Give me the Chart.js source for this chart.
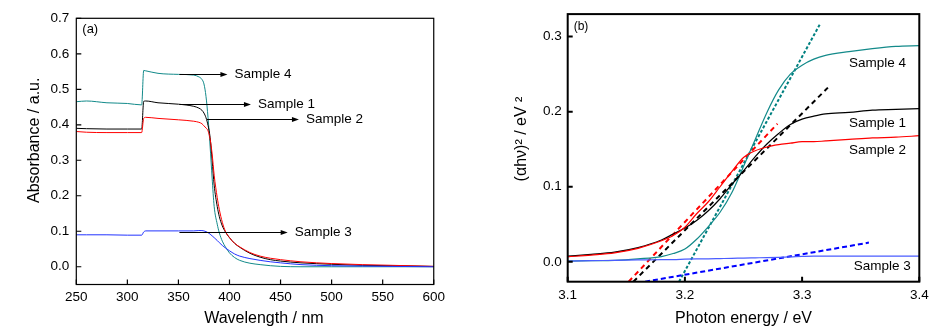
<!DOCTYPE html>
<html>
<head>
<meta charset="utf-8">
<script src="https://cdn.jsdelivr.net/npm/chart.js@4"></script>
<style>
  body { margin: 0; background: #fff; }
  #wrap { position: relative; width: 947px; height: 336px; }
  canvas { position: absolute; top: 0; }
  #chartA { left: 0; }
  #chartB { left: 480px; }
</style>
</head>
<body>
<div id="wrap">
  <canvas id="chartA" width="450" height="336"></canvas>
  <canvas id="chartB" width="467" height="336"></canvas>
</div>
<script>
// ---- panel (a): absorbance spectra ----
const wavelength = [250, 260, 280, 300, 314, 316, 318, 330, 350, 365, 370, 373, 375, 377, 379, 381, 383, 385, 388, 390, 393, 396, 400, 405, 410, 420, 430, 440, 450, 470, 500, 530, 560, 600];
const absSample1 = [0.390, 0.389, 0.388, 0.388, 0.388, 0.466, 0.467, 0.462, 0.458, 0.452, 0.447, 0.441, 0.433, 0.420, 0.398, 0.365, 0.300, 0.230, 0.170, 0.142, 0.115, 0.098, 0.082, 0.066, 0.055, 0.038, 0.027, 0.020, 0.016, 0.011, 0.007, 0.004, 0.003, 0.001];
const absSample2 = [0.381, 0.379, 0.378, 0.378, 0.378, 0.418, 0.421, 0.418, 0.414, 0.410, 0.407, 0.403, 0.397, 0.391, 0.383, 0.360, 0.318, 0.258, 0.195, 0.162, 0.125, 0.100, 0.082, 0.066, 0.056, 0.040, 0.030, 0.024, 0.020, 0.014, 0.009, 0.006, 0.004, 0.001];
const absSample3 = [0.090, 0.090, 0.090, 0.089, 0.089, 0.098, 0.101, 0.101, 0.101, 0.101, 0.102, 0.102, 0.101, 0.099, 0.096, 0.092, 0.087, 0.082, 0.074, 0.068, 0.060, 0.053, 0.045, 0.036, 0.030, 0.023, 0.018, 0.014, 0.011, 0.006, 0.003, 0.002, 0.001, 0.000];
const absSample4 = [0.465, 0.467, 0.462, 0.460, 0.456, 0.553, 0.552, 0.545, 0.542, 0.540, 0.535, 0.528, 0.515, 0.480, 0.420, 0.340, 0.250, 0.170, 0.120, 0.096, 0.072, 0.056, 0.039, 0.026, 0.018, 0.010, 0.006, 0.003, 0.001, 0.000, 0.000, 0.000, 0.000, 0.000];
const xTicksA = [250, 300, 350, 400, 450, 500, 550, 600];
const yTicksA = [0.0, 0.1, 0.2, 0.3, 0.4, 0.5, 0.6, 0.7];

// arrows pointing at the curves (data units)
const arrowNames = ['Sample 4', 'Sample 1', 'Sample 2', 'Sample 3'];
const arrowY = [0.542, 0.458, 0.417, 0.098];
const arrowFrom = [351, 351, 378, 351];
const arrowTo = [398, 421, 468, 457];

// ---- panel (b): Tauc plot ----
const energy = [3.10, 3.12, 3.14, 3.16, 3.18, 3.19, 3.20, 3.21, 3.22, 3.23, 3.24, 3.25, 3.26, 3.27, 3.28, 3.29, 3.30, 3.31, 3.32, 3.34, 3.36, 3.38, 3.40];
const taucSample1 = [0.0075, 0.010, 0.013, 0.019, 0.029, 0.037, 0.045, 0.055, 0.068, 0.084, 0.103, 0.121, 0.140, 0.157, 0.171, 0.183, 0.190, 0.194, 0.197, 0.199, 0.202, 0.203, 0.204];
const taucSample2 = [0.0066, 0.009, 0.012, 0.018, 0.028, 0.035, 0.046, 0.064, 0.080, 0.100, 0.120, 0.139, 0.148, 0.153, 0.156, 0.158, 0.160, 0.160, 0.161, 0.163, 0.165, 0.166, 0.168];
const taucSample3 = [0.001, 0.0015, 0.002, 0.0025, 0.003, 0.003, 0.0035, 0.0038, 0.004, 0.0043, 0.0046, 0.005, 0.0053, 0.0056, 0.006, 0.0065, 0.0072, 0.0075, 0.0076, 0.0076, 0.0076, 0.0076, 0.0076];
const taucSample4 = [0.001, 0.0015, 0.002, 0.004, 0.007, 0.011, 0.017, 0.030, 0.047, 0.066, 0.092, 0.127, 0.163, 0.199, 0.229, 0.250, 0.262, 0.270, 0.275, 0.280, 0.284, 0.287, 0.288];
// linear fits (end points)
const fitX1 = [3.156, 3.322], fitY1 = [-0.0265, 0.232];
const fitX2 = [3.152, 3.279], fitY2 = [-0.0265, 0.184];
const fitX3 = [3.166, 3.357], fitY3 = [-0.0265, 0.0256];
const fitX4 = [3.195, 3.315], fitY4 = [-0.0265, 0.316];
const xTicksB = [3.1, 3.2, 3.3, 3.4];
const yTicksB = [0.0, 0.1, 0.2, 0.3];

const labelNamesB = ['Sample 4', 'Sample 1', 'Sample 2', 'Sample 3'];
const labelXB = [3.34, 3.34, 3.34, 3.344];
const labelYB = [0.265, 0.185, 0.149, -0.006];

const FONT = "'Liberation Sans', Arial, sans-serif";
Chart.defaults.color = '#000';
Chart.defaults.font.family = FONT;

function pts(xs, ys) {
  return xs.map((x, i) => ({ x: x, y: ys[i] }));
}

function curve(xs, ys, color, width) {
  return {
    data: pts(xs, ys),
    borderColor: color,
    borderWidth: width,
    pointRadius: 0,
    cubicInterpolationMode: 'monotone'
  };
}

function fit(xs, ys, color, dash) {
  return {
    data: pts(xs, ys),
    borderColor: color,
    borderWidth: 2,
    borderDash: dash,
    pointRadius: 0
  };
}

function axis(min, max, ticks, fmt, title, size, pad, isX) {
  return {
    type: 'linear',
    min: min,
    max: max,
    afterBuildTicks: s => { s.ticks = ticks.map(v => ({ value: v })); },
    afterFit: s => { if (isX) s.height = size; else s.width = size; },
    grid: { display: false, drawTicks: false },
    border: { display: false },
    ticks: { padding: pad, font: { size: 13.5 }, callback: fmt },
    title: { display: true, text: title, padding: 0, font: { size: 16 } }
  };
}

// frame + inward tick marks
const framePlugin = {
  id: 'frame',
  afterDatasetsDraw(chart, args, opts) {
    const { ctx, chartArea: a, scales } = chart;
    ctx.save();
    ctx.strokeStyle = '#000';
    ctx.lineWidth = opts.width;
    ctx.beginPath();
    scales.x.ticks.forEach(t => {
      const px = scales.x.getPixelForValue(t.value);
      ctx.moveTo(px, a.bottom);
      ctx.lineTo(px, a.bottom - opts.tick);
    });
    scales.y.ticks.forEach(t => {
      const py = scales.y.getPixelForValue(t.value);
      ctx.moveTo(a.left, py);
      ctx.lineTo(a.left + opts.tick, py);
    });
    ctx.stroke();
    ctx.strokeRect(a.left, a.top, a.right - a.left, a.bottom - a.top);
    ctx.font = opts.tagSize + 'px ' + FONT;
    ctx.fillStyle = '#000';
    ctx.textBaseline = 'middle';
    ctx.fillText(opts.tag, a.left + opts.tagDx, a.top + opts.tagDy);
    ctx.restore();
  }
};

const arrowPlugin = {
  id: 'arrows',
  afterDatasetsDraw(chart) {
    const { ctx, scales: { x, y } } = chart;
    ctx.save();
    ctx.strokeStyle = '#000';
    ctx.fillStyle = '#000';
    ctx.lineWidth = 1;
    ctx.font = '13.5px ' + FONT;
    ctx.textBaseline = 'middle';
    arrowNames.forEach((name, i) => {
      const py = Math.round(y.getPixelForValue(arrowY[i])) + 0.5;
      const x0 = x.getPixelForValue(arrowFrom[i]);
      const x1 = x.getPixelForValue(arrowTo[i]);
      ctx.beginPath();
      ctx.moveTo(x0, py);
      ctx.lineTo(x1 - 6, py);
      ctx.stroke();
      ctx.beginPath();
      ctx.moveTo(x1, py);
      ctx.lineTo(x1 - 7, py - 2.5);
      ctx.lineTo(x1 - 7, py + 2.5);
      ctx.closePath();
      ctx.fill();
      ctx.fillText(name, x1 + 7, py);
    });
    ctx.restore();
  }
};

const labelPlugin = {
  id: 'labels',
  afterDatasetsDraw(chart) {
    const { ctx, scales: { x, y } } = chart;
    ctx.save();
    ctx.fillStyle = '#000';
    ctx.font = '13.5px ' + FONT;
    ctx.textBaseline = 'middle';
    labelNamesB.forEach((name, i) => {
      ctx.fillText(name, x.getPixelForValue(labelXB[i]), y.getPixelForValue(labelYB[i]));
    });
    ctx.restore();
  }
};

const common = {
  responsive: false,
  animation: false,
  events: [],
  plugins: { legend: { display: false }, tooltip: { enabled: false } }
};

new Chart(document.getElementById('chartA').getContext('2d'), {
  type: 'line',
  data: {
    datasets: [
      curve(wavelength, absSample3, '#2233ff', 1),
      curve(wavelength, absSample2, '#ff0000', 1),
      curve(wavelength, absSample1, '#000000', 1),
      curve(wavelength, absSample4, '#138a8a', 1)
    ]
  },
  options: {
    ...common,
    layout: { padding: { left: 25, right: 14.7, top: 18.3, bottom: 7.4 } },
    scales: {
      x: axis(250, 600, xTicksA, v => v, '    Wavelength / nm', 44.1, 5, true),
      y: axis(-0.05, 0.7, yTicksA, v => v.toFixed(1), '     Absorbance / a.u.', 51.3, 7, false)
    },
    plugins: {
      ...common.plugins,
      frame: { width: 1.2, tick: 5, tag: '(a)', tagSize: 13, tagDx: 6, tagDy: 11 }
    }
  },
  plugins: [framePlugin, arrowPlugin]
});

new Chart(document.getElementById('chartB').getContext('2d'), {
  type: 'line',
  data: {
    datasets: [
      curve(energy, taucSample3, '#4a5cff', 1.2),
      curve(energy, taucSample2, '#ff0000', 1.2),
      curve(energy, taucSample1, '#000000', 1.2),
      curve(energy, taucSample4, '#138a8a', 1.2),
      fit(fitX3, fitY3, '#0000ff', [5, 3]),
      fit(fitX2, fitY2, '#ff0000', [5, 4]),
      fit(fitX1, fitY1, '#000000', [5, 4]),
      fit(fitX4, fitY4, '#008080', [3, 2])
    ]
  },
  options: {
    ...common,
    layout: { padding: { left: 32, right: 27.7, top: 12.7, bottom: 7.4 } },
    scales: {
      x: axis(3.1, 3.4, xTicksB, v => v.toFixed(1), 'Photon energy / eV', 46.9, 5, true),
      y: axis(-0.0265, 0.33, yTicksB, v => v.toFixed(1), '    (\u03b1h\u03bd)\u00b2 / eV \u00b2', 55.7, 6, false)
    },
    plugins: {
      ...common.plugins,
      frame: { width: 2, tick: 5, tag: '(b)', tagSize: 12, tagDx: 6, tagDy: 13 }
    }
  },
  plugins: [framePlugin, labelPlugin]
});
</script>
</body>
</html>
